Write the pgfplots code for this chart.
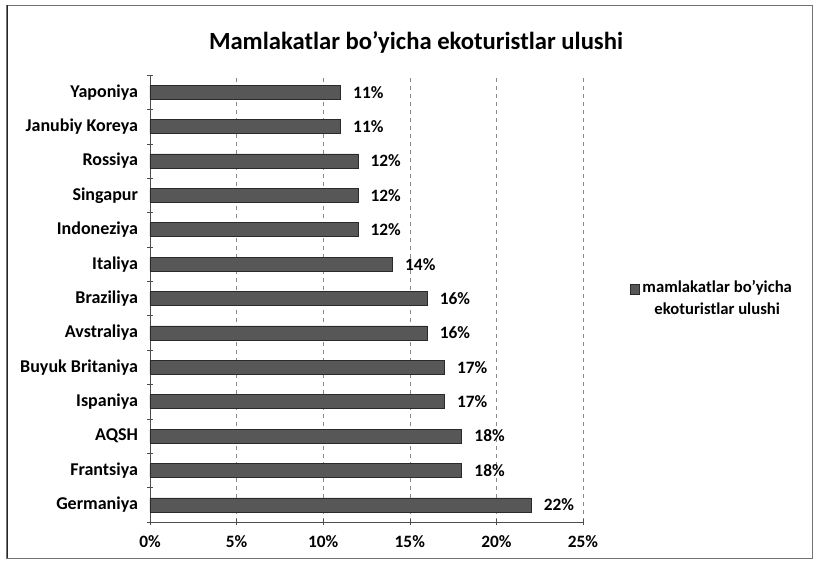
\documentclass[border=0pt]{standalone}
\usepackage{fontspec}
\setmainfont{Carlito}
\usepackage{pgfplots}
\pgfplotsset{compat=1.18}

\definecolor{barfill}{HTML}{575757}
\definecolor{baredge}{HTML}{2A2A2A}
\definecolor{gridc}{HTML}{8A8A8A}

\pgfplotstableread{
idx value
0  22
1  18
2  18
3  17
4  17
5  16
6  16
7  14
8  12
9  12
10 12
11 11
12 11
}\ekodata

\begin{document}
\begin{tikzpicture}
% page frame, 818x563 px at 0.75pt per px
\path[use as bounding box] (0,0) rectangle (613.5pt,-422.25pt);
\draw[black!55, line width=0.6pt] (4.5pt,-3.75pt) rectangle (609pt,-418.5pt);
\draw[black!85, line width=1pt] (5.5pt,-3.75pt) -- (5.5pt,-418.5pt);

\node[font=\fontsize{18.5}{22}\selectfont\bfseries] at (312pt,-31.5pt)
  {Mamlakatlar bo’yicha ekoturistlar ulushi};

\begin{axis}[
  at={(112.5pt,-391.5pt)}, anchor=south west,
  scale only axis,
  width=324.75pt, height=335.25pt,
  xbar, bar width=10.5pt,
  xmin=0, xmax=25,
  ymin=-0.5, ymax=12.5,
  xtick={0,5,10,15,20,25},
  xticklabels={0\%,5\%,10\%,15\%,20\%,25\%},
  ytick={0,...,12},
  yticklabels={Germaniya,Frantsiya,AQSH,Ispaniya,Buyuk Britaniya,Avstraliya,Braziliya,Italiya,Indoneziya,Singapur,Rossiya,Janubiy Koreya,Yaponiya},
  minor ytick={-0.5,0.5,...,12.5},
  major y tick style={draw=none},
  minor tick length=4pt,
  major tick length=4pt,
  tick align=outside,
  tick style={black!70, thin},
  axis lines=left,
  axis line style={-, black!70, thin},
  xmajorgrids,
  grid style={gridc, dashed, thin},
  yticklabel style={font=\fontsize{13.5}{15}\selectfont\bfseries, xshift=-3.5pt},
  xticklabel style={font=\fontsize{13}{15}\selectfont\bfseries, yshift=-5pt},
  /pgf/number format/assume math mode=true,
  nodes near coords={\pgfmathprintnumber{\pgfplotspointmeta}\%},
  nodes near coords style={font=\fontsize{13}{15}\selectfont\bfseries, xshift=6pt},
  legend style={at={(1.0,0.5)}, anchor=west, xshift=32pt, draw=none, fill=none,
    font=\fontsize{12.5}{16}\selectfont\bfseries, cells={align=center}},
  legend image code/.code={\fill[barfill, draw=baredge] (0pt,3.5pt) rectangle (7pt,10.5pt);},
]
\addplot[fill=barfill, draw=baredge] table[x=value, y=idx] {\ekodata};
\legend{mamlakatlar bo’yicha\\ekoturistlar ulushi}
\end{axis}
\end{tikzpicture}
\end{document}
